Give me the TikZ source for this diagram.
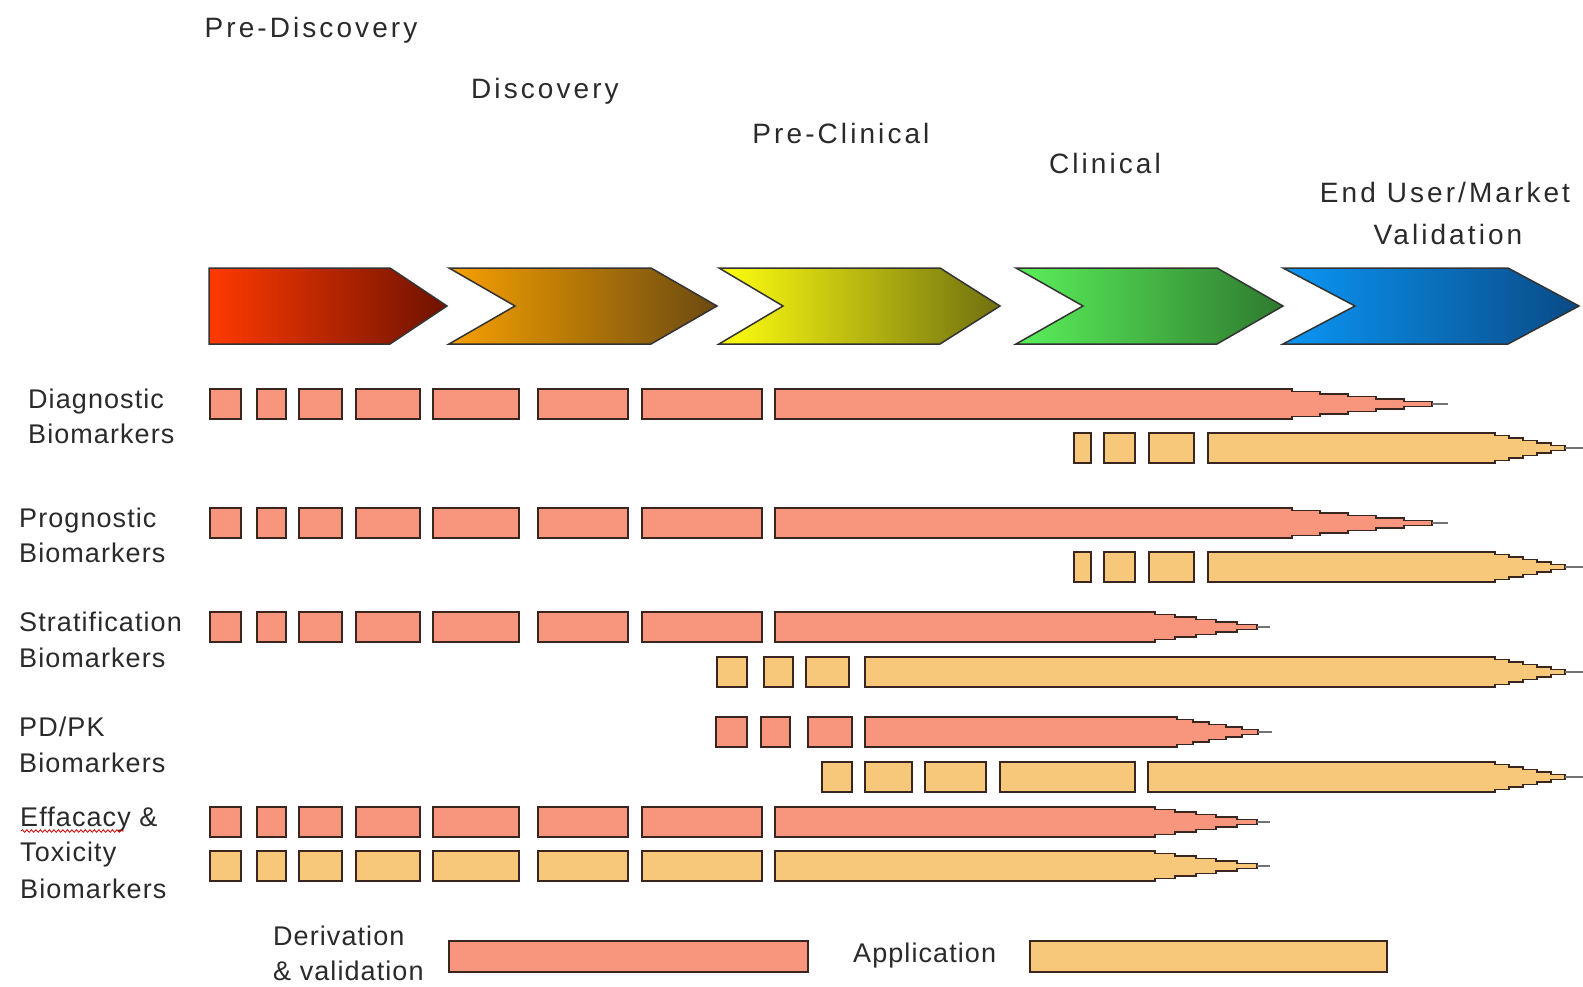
\documentclass[tikz,border=0pt]{standalone}
\usepackage{fontspec}
\setmainfont{Liberation Sans}
\newfontfamily\phasefont{Liberation Sans}[LetterSpace=11]
\newfontfamily\rowfont{Liberation Sans}[LetterSpace=4]
\usetikzlibrary{decorations.pathmorphing}

\definecolor{deriv}{HTML}{F7967C}
\definecolor{appl}{HTML}{F8C87A}
\definecolor{barline}{HTML}{3A2620}
\definecolor{txt}{HTML}{2A2A2A}

\tikzset{
  derivbar/.style={fill=deriv, draw=barline, line width=1.9pt},
  applbar/.style={fill=appl, draw=barline, line width=1.9pt},
  tipline/.style={draw=black!55, line width=1.2pt},
  phase/.style={font=\phasefont\fontsize{28}{32}\selectfont, text=txt, inner sep=0pt, anchor=base},
  rowlabel/.style={font=\rowfont\fontsize{27}{32}\selectfont, text=txt, inner sep=0pt, anchor=base west},
  chev/.style={draw=black!80, line width=1.5pt, line join=miter},
}

% a row of separate boxes: list of left/right pairs, top edge, style
\newcommand\boxrow[3]{%
  \foreach \bl/\br in {#1} {\draw[#3] (\bl,#2) rectangle ({\br},{#2+30});}%
}

% long bar ending in a stepped taper and a thin tip line
% #1 start, #2 end of full height, #3 end of steps, #4 tip, #5 top edge, #6 style
\newcommand\taperbar[6]{%
  \pgfmathsetmacro\tbs{(#3-#2)/5}%
  \pgfmathsetmacro\tbc{#5+15}%
  \draw[#6] (#1,#5) -- (#2,#5)
    -- (#2,{\tbc-12.5}) -- ({#2+\tbs},{\tbc-12.5})
    -- ({#2+\tbs},{\tbc-10}) -- ({#2+2*\tbs},{\tbc-10})
    -- ({#2+2*\tbs},{\tbc-7.5}) -- ({#2+3*\tbs},{\tbc-7.5})
    -- ({#2+3*\tbs},{\tbc-5}) -- ({#2+4*\tbs},{\tbc-5})
    -- ({#2+4*\tbs},{\tbc-2.5}) -- (#3,{\tbc-2.5})
    -- (#3,{\tbc+2.5}) -- ({#2+4*\tbs},{\tbc+2.5})
    -- ({#2+4*\tbs},{\tbc+5}) -- ({#2+3*\tbs},{\tbc+5})
    -- ({#2+3*\tbs},{\tbc+7.5}) -- ({#2+2*\tbs},{\tbc+7.5})
    -- ({#2+2*\tbs},{\tbc+10}) -- ({#2+\tbs},{\tbc+10})
    -- ({#2+\tbs},{\tbc+12.5}) -- (#2,{\tbc+12.5})
    -- (#2,{#5+30}) -- (#1,{#5+30}) -- cycle;
  \draw[tipline] (#3,\tbc) -- (#4,\tbc);
}

\begin{document}
\begin{tikzpicture}[x=1pt,y=-1pt]
\useasboundingbox (0,0) rectangle (1583,986);
\fill[white] (0,0) rectangle (1583,986);

% phase names
\node[phase] (pd)  at (311,37)  {Pre-Discovery};
\node[phase] (di)  at (545,98)  {Discovery};
\node[phase] (pc)  at (841,143) {Pre-Clinical};
\node[phase] (cl)  at (1105,173) {Clinical};
\node[phase] (eu1) at (1445,202) {End User/Market};
\node[phase] (eu2) at (1448,244) {Validation};

% phase chevrons
\draw[chev, left color={rgb,255:red,255;green,58;blue,0}, right color={rgb,255:red,110;green,18;blue,0}]
  (209,268) -- (390,268) -- (447,306) -- (390,344) -- (209,344) -- cycle;
\draw[chev, left color={rgb,255:red,247;green,160;blue,0}, right color={rgb,255:red,107;green,74;blue,16}]
  (449,268) -- (651,268) -- (717,306) -- (651,344) -- (449,344) -- (515,306) -- cycle;
\draw[chev, left color={rgb,255:red,255;green,255;blue,16}, right color={rgb,255:red,112;green,112;blue,16}]
  (719,268) -- (940,268) -- (1000,306) -- (940,344) -- (719,344) -- (783,306) -- cycle;
\draw[chev, left color={rgb,255:red,90;green,240;blue,90}, right color={rgb,255:red,46;green,122;blue,46}]
  (1016,268) -- (1217,268) -- (1283,306) -- (1217,344) -- (1016,344) -- (1083,306) -- cycle;
\draw[chev, left color={rgb,255:red,10;green,150;blue,245}, right color={rgb,255:red,10;green,74;blue,133}]
  (1283,268) -- (1508,268) -- (1579,306) -- (1508,344) -- (1283,344) -- (1355,306) -- cycle;

% row labels
\node[rowlabel] (dg1) at (28,408) {Diagnostic};
\node[rowlabel] (dg2) at (28,443) {Biomarkers};
\node[rowlabel] (pg1) at (19,527) {Prognostic};
\node[rowlabel] (pg2) at (19,562) {Biomarkers};
\node[rowlabel] (st1) at (19,631) {Stratification};
\node[rowlabel] (st2) at (19,667) {Biomarkers};
\node[rowlabel] (pk1) at (19,736) {PD/PK};
\node[rowlabel] (pk2) at (19,772) {Biomarkers};
\node[rowlabel] (ef1) at (20,826) {Effacacy \&};
\node[rowlabel] (ef2) at (20,861) {Toxicity};
\node[rowlabel] (ef3) at (20,898) {Biomarkers};
\draw[red!80!black, line width=0.8pt, decorate,
      decoration={snake, amplitude=1.3pt, segment length=4.5pt}] (21,831) -- (124,831);

% diagnostic
\boxrow{210/241,257/286,299/342,356/420,433/519,538/628,642/762}{389}{derivbar}
\taperbar{775}{1292}{1432}{1448}{389}{derivbar}
\boxrow{1074/1091,1104/1135,1149/1194}{433}{applbar}
\taperbar{1208}{1495}{1565}{1583}{433}{applbar}

% prognostic
\boxrow{210/241,257/286,299/342,356/420,433/519,538/628,642/762}{508}{derivbar}
\taperbar{775}{1292}{1432}{1448}{508}{derivbar}
\boxrow{1074/1091,1104/1135,1149/1194}{552}{applbar}
\taperbar{1208}{1495}{1565}{1583}{552}{applbar}

% stratification
\boxrow{210/241,257/286,299/342,356/420,433/519,538/628,642/762}{612}{derivbar}
\taperbar{775}{1155}{1257}{1270}{612}{derivbar}
\boxrow{717/747,764/793,806/849}{657}{applbar}
\taperbar{865}{1495}{1565}{1583}{657}{applbar}

% PD/PK
\boxrow{716/747,761/790,808/852}{717}{derivbar}
\taperbar{865}{1177}{1258}{1272}{717}{derivbar}
\boxrow{822/852,865/912,925/986,1000/1135}{762}{applbar}
\taperbar{1148}{1495}{1565}{1583}{762}{applbar}

% efficacy and toxicity
\boxrow{210/241,257/286,299/342,356/420,433/519,538/628,642/762}{807}{derivbar}
\taperbar{775}{1155}{1257}{1270}{807}{derivbar}
\boxrow{210/241,257/286,299/342,356/420,433/519,538/628,642/762}{851}{applbar}
\taperbar{775}{1155}{1257}{1270}{851}{applbar}

% legend
\node[rowlabel] (lg1) at (273,945) {Derivation};
\node[rowlabel] (lg2) at (273,980) {\& validation};
\draw[derivbar] (449,941) rectangle (808,972);
\node[rowlabel] (lg3) at (853,962) {Application};
\draw[applbar] (1030,941) rectangle (1387,972);
\end{tikzpicture}
\end{document}
